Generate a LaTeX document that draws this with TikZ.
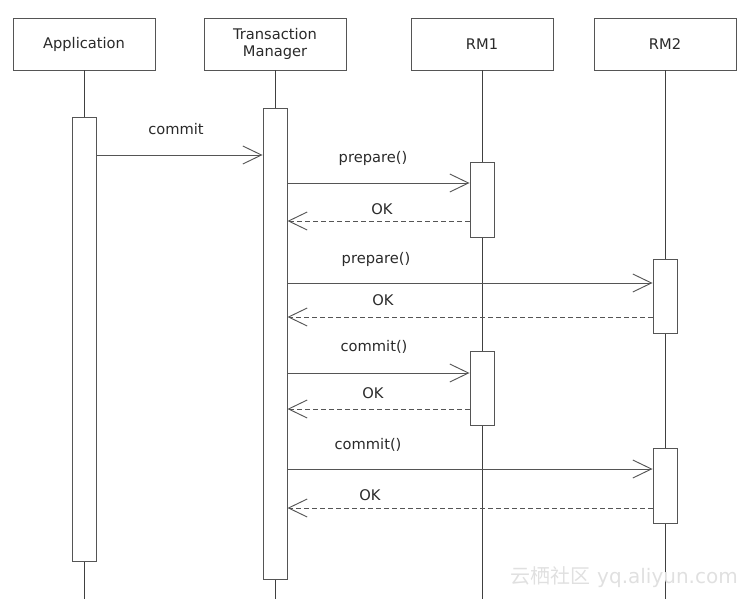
\documentclass[tikz,border=0pt]{standalone}
\usepackage{fontspec}
\setmainfont{DejaVu Sans}
\newfontfamily\cjkfont{Noto Sans CJK SC}
\usetikzlibrary{arrows.meta}
\definecolor{linec}{HTML}{555555}
\definecolor{textc}{HTML}{2A2A2A}
\tikzset{
  head/.style={draw=linec, line width=0.7pt, fill=white, minimum width=106.5pt, minimum height=39pt, inner sep=0pt, align=center, font=\fontsize{11pt}{12.5pt}\selectfont, text=textc},
  actbox/.style={draw=linec, line width=0.7pt, fill=white, minimum width=18pt, inner sep=0pt},
  lifeline/.style={draw=black!75, line width=0.75pt},
  msg/.style={draw=linec, line width=0.7pt, -{Straight Barb[length=14pt, width=13.5pt, line width=0.7pt]}},
  reply/.style={msg, dash pattern=on 3.75pt off 2.25pt},
  lbl/.style={font=\fontsize{11pt}{12.5pt}\selectfont, text=textc, inner sep=0pt}
}
\begin{document}
\begin{tikzpicture}[x=0.75pt, y=-0.75pt]
\useasboundingbox (0,0) rectangle (748,599);
% heads
\node[head] (app) at (84,44) {Application};
\node[head] (tm) at (275,44) {Transaction\\Manager};
\node[head] (rm1) at (482,44) {RM1};
\node[head] (rm2) at (665,44) {RM2};
% lifeline ends
\coordinate (append) at (84,599);
\coordinate (tmend) at (275,599);
\coordinate (rm1end) at (482,599);
\coordinate (rm2end) at (665,599);
\draw[lifeline] (app.south) -- (append);
\draw[lifeline] (tm.south) -- (tmend);
\draw[lifeline] (rm1.south) -- (rm1end);
\draw[lifeline] (rm2.south) -- (rm2end);
% activation boxes
\node[actbox, minimum height=333pt] (appact) at (84,339) {};
\node[actbox, minimum height=353.25pt] (tmact) at (275,343.5) {};
\node[actbox, minimum height=56.25pt] (rm1a) at (482,199.5) {};
\node[actbox, minimum height=55.5pt] (rm1b) at (482,388) {};
\node[actbox, minimum height=55.5pt] (rm2a) at (665,296) {};
\node[actbox, minimum height=56.25pt] (rm2b) at (665,485.5) {};
% messages
\draw[msg] (appact.east |- 0,155) -- (tmact.west |- 0,155);
\node[lbl] (l1) at (176,129) {commit};
\draw[msg] (tmact.east |- 0,183) -- (rm1a.west |- 0,183);
\node[lbl] (l2) at (373,158) {prepare()};
\draw[reply] (rm1a.west |- 0,221) -- (tmact.east |- 0,221);
\node[lbl] (l3) at (382,209) {OK};
\draw[msg] (tmact.east |- 0,283) -- (rm2a.west |- 0,283);
\node[lbl] (l4) at (376,259) {prepare()};
\draw[reply] (rm2a.west |- 0,317) -- (tmact.east |- 0,317);
\node[lbl] (l5) at (383,300) {OK};
\draw[msg] (tmact.east |- 0,373) -- (rm1b.west |- 0,373);
\node[lbl] (l6) at (374,347) {commit()};
\draw[reply] (rm1b.west |- 0,409) -- (tmact.east |- 0,409);
\node[lbl] (l7) at (373,393) {OK};
\draw[msg] (tmact.east |- 0,469) -- (rm2b.west |- 0,469);
\node[lbl] (l8) at (368,445) {commit()};
\draw[reply] (rm2b.west |- 0,508) -- (tmact.east |- 0,508);
\node[lbl] (l9) at (370,495) {OK};
% watermark
\node[inner sep=0pt, text=black!12, font=\fontsize{15pt}{17pt}\selectfont, anchor=east] (wm) at (738,577) {{\cjkfont 云栖社区} yq.aliyun.com};
\end{tikzpicture}
\end{document}
